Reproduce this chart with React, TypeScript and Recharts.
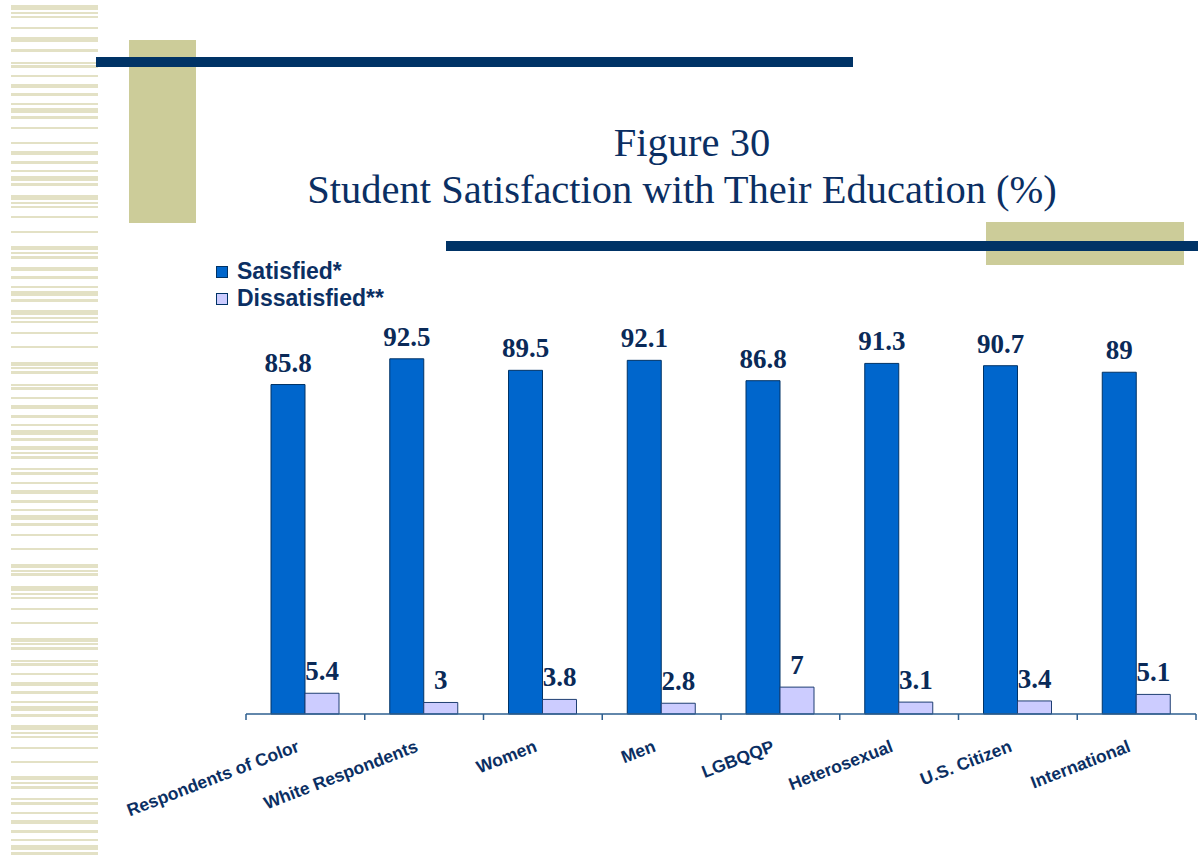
import React from 'react';
import { BarChart, Bar, XAxis, YAxis, LabelList } from 'recharts';

// chart values
const categories = [
  'Respondents of Color',
  'White Respondents',
  'Women',
  'Men',
  'LGBQQP',
  'Heterosexual',
  'U.S. Citizen',
  'International',
];
const satisfied = [85.8, 92.5, 89.5, 92.1, 86.8, 91.3, 90.7, 89];
const dissatisfied = [5.4, 3, 3.8, 2.8, 7, 3.1, 3.4, 5.1];
const seriesNames = ['Satisfied*', 'Dissatisfied**'];

const W = 1198;
const H = 856;
const PLOT_LEFT = 246;
const PLOT_RIGHT = 2;
const HALF_BAND = (W - PLOT_LEFT - PLOT_RIGHT) / categories.length / 2;

const NAVY = '#003366';
const TEXT = '#0b2f63';
const BLUE = '#0066cc';
const LAVENDER = '#ccccff';

// decorative stripes on the left edge: [top, height]
const stripes: [number, number][] = [
  [5, 5], [12, 2], [16, 2], [27, 2], [37, 5], [49, 3], [62, 2], [65, 3], [75, 2], [84, 4],
  [93, 3], [103, 2], [108, 5], [116, 3], [127, 2], [142, 2], [151, 4], [161, 3], [170, 2],
  [176, 5], [183, 3], [195, 5], [202, 2], [206, 2], [216, 2], [231, 2], [246, 4], [252, 2],
  [256, 3], [267, 4], [276, 3], [286, 2], [291, 5], [299, 3], [310, 5], [317, 2], [321, 2],
  [332, 2], [346, 2], [362, 4], [367, 2], [371, 3], [384, 2], [387, 3], [397, 2], [405, 4],
  [415, 3], [424, 2], [430, 5], [438, 3], [446, 4], [452, 2], [456, 3], [468, 2], [472, 3],
  [482, 2], [490, 4], [500, 3], [509, 2], [515, 5], [523, 3], [534, 2], [548, 2], [564, 4],
  [570, 2], [573, 3], [586, 5], [593, 2], [597, 2], [608, 2], [622, 2], [638, 4], [643, 2],
  [647, 3], [660, 2], [663, 3], [673, 2], [682, 4], [691, 3], [701, 2], [706, 5], [714, 3],
  [725, 5], [732, 2], [736, 2], [747, 2], [761, 2], [776, 4], [782, 2], [786, 3], [798, 2],
  [802, 3], [812, 2], [820, 4], [830, 3], [839, 2], [845, 5], [852, 3],
];

const data = categories.map((name, i) => ({
  name,
  satisfied: satisfied[i],
  dissatisfied: dissatisfied[i],
}));

const AxisTick = (props: any) => {
  const { x, y, payload, index } = props;
  const tx = x - 5;
  const ty = y + 37;
  return (
    <g>
      <line x1={x - HALF_BAND} y1={y} x2={x - HALF_BAND} y2={y + 6} stroke="#2e5f8f" strokeWidth={1.5} />
      {index === categories.length - 1 && (
        <line x1={x + HALF_BAND} y1={y} x2={x + HALF_BAND} y2={y + 6} stroke="#2e5f8f" strokeWidth={1.5} />
      )}
      <text
        x={tx}
        y={ty}
        transform={`rotate(-21 ${tx} ${ty})`}
        textAnchor="end"
        fill={TEXT}
        fontFamily="'Liberation Sans', Arial, sans-serif"
        fontWeight="bold"
        fontSize={17.5}
      >
        {payload.value}
      </text>
    </g>
  );
};

const valueLabelStyle = {
  fontFamily: "'Liberation Serif', 'Times New Roman', serif",
  fontWeight: 'bold' as const,
  fontSize: 27,
  fill: '#0a2a58',
};

export default function App() {
  const legendColors = [BLUE, LAVENDER];
  return (
    <div style={{ position: 'absolute', left: 0, top: 0, width: W, height: H, background: '#fff', overflow: 'hidden' }}>
      {stripes.map(([t, h], i) => (
        <div key={i} style={{ position: 'absolute', left: 11, width: 87, top: t, height: h, background: '#e3e1c5' }} />
      ))}
      <div style={{ position: 'absolute', left: 129, top: 40, width: 67, height: 183, background: '#cccc99' }} />
      <div style={{ position: 'absolute', left: 96, top: 57, width: 757, height: 10, background: NAVY }} />
      <div style={{ position: 'absolute', left: 986, top: 222, width: 198, height: 43, background: '#cccc99' }} />
      <div style={{ position: 'absolute', left: 446, top: 241, width: 752, height: 10, background: NAVY }} />

      <div
        style={{
          position: 'absolute',
          left: 280,
          width: 804,
          top: 119,
          textAlign: 'center',
          fontFamily: "'Liberation Serif', 'Times New Roman', serif",
          fontSize: 40.5,
          lineHeight: '47px',
          color: TEXT,
        }}
      >
        <div style={{ paddingLeft: 20 }}>Figure 30</div>
        <div>Student Satisfaction with Their Education (%)</div>
      </div>

      {/* legend */}
      <div style={{ position: 'absolute', left: 216, top: 258 }}>
        {seriesNames.map((label, i) => (
          <div key={label} style={{ display: 'flex', alignItems: 'center', height: 27 }}>
            <span
              style={{
                display: 'inline-block',
                width: 10,
                height: 10,
                background: legendColors[i],
                border: `1px solid ${NAVY}`,
                marginRight: 9,
              }}
            />
            <span
              style={{
                fontFamily: "'Liberation Sans', Arial, sans-serif",
                fontWeight: 'bold',
                fontSize: 23,
                color: TEXT,
              }}
            >
              {label}
            </span>
          </div>
        ))}
      </div>

      <div style={{ position: 'absolute', left: 0, top: 0 }}>
        <BarChart
          width={W}
          height={H}
          data={data}
          margin={{ top: 330, right: PLOT_RIGHT, left: PLOT_LEFT, bottom: 0 }}
          barGap={0}
          barSize={34}
        >
          <XAxis
            dataKey="name"
            height={142}
            interval={0}
            tickSize={0}
            tickMargin={0}
            tickLine={false}
            axisLine={{ stroke: '#2e5f8f', strokeWidth: 1.5 }}
            tick={<AxisTick />}
          />
          <YAxis hide domain={[0, 100]} width={0} />
          <Bar dataKey="satisfied" name={seriesNames[0]} fill={BLUE} stroke={NAVY} strokeWidth={1} isAnimationActive={false}>
            <LabelList dataKey="satisfied" position="top" offset={13} style={valueLabelStyle} />
          </Bar>
          <Bar dataKey="dissatisfied" name={seriesNames[1]} fill={LAVENDER} stroke="#1f3f73" strokeWidth={1} isAnimationActive={false}>
            <LabelList dataKey="dissatisfied" position="top" offset={13} style={valueLabelStyle} />
          </Bar>
        </BarChart>
      </div>
    </div>
  );
}
